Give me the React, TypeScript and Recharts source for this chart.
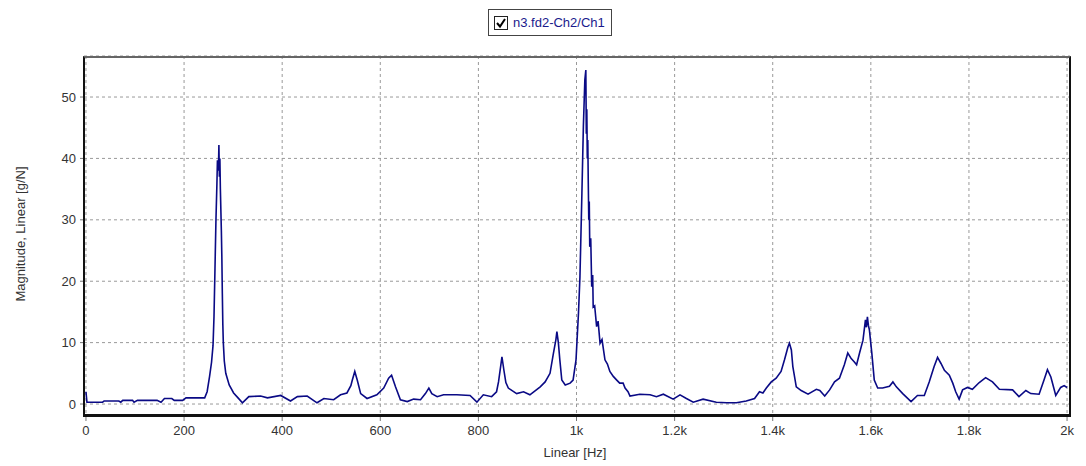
import { LineChart, Line, XAxis, YAxis, CartesianGrid } from "recharts";

// Frequency response magnitude (Hz -> g/N)
const FREQ = [
  0, 2, 20, 34, 37, 67, 71, 75, 95, 98, 105, 145, 153, 160, 175, 180, 197, 204, 242, 247,
  252, 256, 259, 261, 263, 265, 267, 268, 270, 271, 272, 273, 274, 276, 277, 278, 279, 280, 282, 285,
  292, 301, 310, 319, 332, 356, 370, 397, 417, 431, 451, 471, 485, 505, 519, 532, 540, 543, 548, 553,
  560, 573, 593, 607, 617, 623, 631, 641, 655, 668, 682, 692, 699, 705, 716, 729, 756, 783, 797, 810,
  827, 837, 841, 846, 848, 852, 856, 861, 878, 892, 905, 926, 936, 946, 953, 958, 960, 963, 966, 970,
  977, 987, 993, 999, 1004, 1007, 1011, 1014, 1017, 1019, 1020, 1021, 1022, 1023, 1024, 1025, 1026, 1027, 1029, 1031,
  1033, 1034, 1037, 1041, 1044, 1048, 1052, 1058, 1063, 1068, 1075, 1082, 1088, 1095, 1099, 1105, 1109, 1129, 1150, 1163,
  1177, 1197, 1211, 1224, 1238, 1258, 1285, 1306, 1326, 1346, 1363, 1373, 1380, 1387, 1397, 1407, 1417, 1424, 1431, 1434,
  1438, 1441, 1448, 1458, 1472, 1489, 1496, 1506, 1516, 1526, 1536, 1546, 1553, 1560, 1566, 1571, 1577, 1584, 1589, 1591,
  1593, 1595, 1597, 1602, 1607, 1614, 1624, 1638, 1645, 1652, 1665, 1682, 1695, 1709, 1719, 1729, 1736, 1743, 1750, 1760,
  1767, 1773, 1780, 1787, 1797, 1807, 1821, 1834, 1848, 1862, 1889, 1902, 1916, 1926, 1943, 1953, 1960, 1967, 1977, 1987,
  1994, 2000,
];

const MAG = [
  2.0, 0.3, 0.3, 0.3, 0.5, 0.5, 0.3, 0.6, 0.6, 0.3, 0.6, 0.6, 0.3, 0.9, 0.9, 0.6, 0.6, 1.0, 1.0, 2.0,
  4.5, 6.8, 9.5, 14.2, 22, 30, 36, 39.7, 38, 42.2, 37, 40, 35, 28.3, 24, 18, 13, 10, 7, 5,
  3.1, 1.8, 1.0, 0.2, 1.2, 1.3, 1.0, 1.4, 0.5, 1.2, 1.3, 0.2, 0.9, 0.7, 1.5, 1.8, 3.0, 3.9, 5.3, 3.9,
  1.7, 0.9, 1.5, 2.6, 4.2, 4.7, 2.8, 0.7, 0.4, 0.8, 0.7, 1.7, 2.6, 1.7, 1.2, 1.5, 1.5, 1.4, 0.3, 1.5,
  1.2, 2.0, 3.6, 6.5, 7.7, 5.5, 3.5, 2.6, 1.7, 2.0, 1.5, 2.8, 3.6, 5.0, 8.3, 10.5, 11.8, 10, 7.2, 3.9,
  3.1, 3.4, 3.9, 7.2, 14.8, 20.7, 34.3, 45.2, 52.8, 54.4, 44, 48, 40, 43, 36, 30, 33, 25.6, 27, 19.1,
  21, 15.8, 16, 12.6, 13.5, 9.9, 10.5, 7.2, 6.5, 5.3, 4.5, 3.9, 3.4, 3.4, 2.6, 2.0, 1.3, 1.6, 1.5, 1.2,
  1.6, 0.8, 1.5, 0.9, 0.3, 0.8, 0.3, 0.2, 0.2, 0.5, 0.9, 2.0, 1.8, 2.6, 3.6, 4.2, 5.3, 7.2, 9.3, 9.9,
  8.8, 6.1, 2.8, 2.2, 1.6, 2.4, 2.2, 1.3, 2.3, 3.6, 4.2, 6.4, 8.3, 7.4, 6.9, 6.4, 8.3, 10.4, 13.7, 12.5,
  14.2, 12.8, 12.1, 8.3, 3.9, 2.6, 2.6, 2.9, 3.6, 2.8, 1.7, 0.4, 1.4, 1.4, 3.6, 6.1, 7.6, 6.6, 5.5, 4.7,
  3.4, 2.0, 0.8, 2.3, 2.7, 2.4, 3.5, 4.3, 3.6, 2.4, 2.3, 1.2, 2.2, 1.7, 1.6, 3.9, 5.6, 4.4, 1.4, 2.7,
  3.0, 2.7,
];

const X_TICKS = [0, 200, 400, 600, 800, 1000, 1200, 1400, 1600, 1800, 2000];
const Y_TICKS = [0, 10, 20, 30, 40, 50];
const SERIES_NAME = "n3.fd2-Ch2/Ch1";

const data = FREQ.map((f, i) => ({ f, mag: MAG[i] }));

const FONT = "'Liberation Sans', Arial, sans-serif";
const tickStyle = { fontSize: 13, fill: "#333", fontFamily: FONT };

const fmtHz = (v: number) => (v >= 1000 ? `${v / 1000}k` : String(v));

export default function App() {
  return (
    <div style={{ position: "relative", width: 1070, height: 458, fontFamily: FONT }}>
      <LineChart
        width={1070}
        height={458}
        data={data}
        margin={{ top: 48, right: 8, bottom: 20, left: 0 }}
      >
        <CartesianGrid stroke="#999" strokeDasharray="3 3" />
        <XAxis
          type="number"
          dataKey="f"
          domain={[-4, 2006]}
          ticks={X_TICKS}
          tickFormatter={fmtHz}
          allowDataOverflow
          axisLine={false}
          tickLine={{ stroke: "#777" }}
          tickSize={5}
          tickMargin={5}
          height={30}
          tick={tickStyle}
        />
        <YAxis
          type="number"
          domain={[-1.95, 56.68]}
          ticks={Y_TICKS}
          allowDataOverflow
          axisLine={false}
          tickLine={{ stroke: "#777" }}
          tickSize={4}
          tickMargin={4}
          width={76}
          tick={tickStyle}
        />
        <Line
          type="linear"
          dataKey="mag"
          name={SERIES_NAME}
          stroke="#0a0a85"
          strokeWidth={1.6}
          dot={false}
          isAnimationActive={false}
        />
      </LineChart>

      {/* plot frame */}
      <div
        style={{
          position: "absolute",
          left: 75,
          top: 48,
          width: 988,
          height: 361,
          boxSizing: "border-box",
          borderTop: "2px solid #666",
          borderLeft: "2px solid #111",
          borderRight: "2px solid #111",
          borderBottom: "3px solid #111",
          pointerEvents: "none",
        }}
      />

      {/* legend */}
      <div
        style={{
          position: "absolute",
          left: 480,
          top: 1,
          width: 124,
          height: 27,
          boxSizing: "border-box",
          border: "1px solid #444",
          background: "#fff",
          display: "flex",
          alignItems: "center",
          paddingLeft: 5,
          fontSize: 13,
          color: "#1a1a8c",
        }}
      >
        <svg width={14} height={14} style={{ marginRight: 5 }}>
          <rect x={0.5} y={0.5} width={13} height={13} fill="#fff" stroke="#222" />
          <path d="M3 7 L6 10.5 L11 3" fill="none" stroke="#000" strokeWidth={2} />
        </svg>
        <span>{SERIES_NAME}</span>
      </div>

      {/* axis titles */}
      <div
        style={{
          position: "absolute",
          left: 567,
          top: 444,
          transform: "translate(-50%, -50%)",
          fontSize: 13,
          color: "#333",
          whiteSpace: "nowrap",
        }}
      >
        Linear [Hz]
      </div>
      <div
        style={{
          position: "absolute",
          left: 12,
          top: 226,
          transform: "translate(-50%, -50%) rotate(-90deg)",
          fontSize: 13,
          color: "#333",
          whiteSpace: "nowrap",
        }}
      >
        Magnitude, Linear [g/N]
      </div>
    </div>
  );
}
